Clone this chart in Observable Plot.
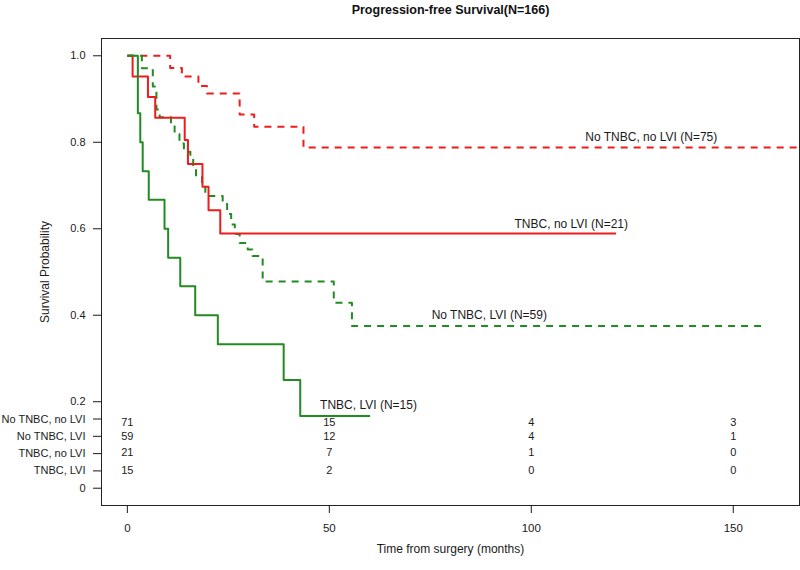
<!DOCTYPE html>
<html><head><meta charset="utf-8">
<script src="https://cdn.jsdelivr.net/npm/d3@7"></script>
<script src="https://cdn.jsdelivr.net/npm/@observablehq/plot@0.6"></script>
<style>body{margin:0;background:#fff;font-family:"Liberation Sans",Arial,sans-serif}</style>
</head><body><div id="chart"></div>
<script>
// ---- data ----
const groups = ["No TNBC, no LVI", "No TNBC, LVI", "TNBC, no LVI", "TNBC, LVI"];
const groupN = [75, 59, 21, 15];

const timeNoTNBCnoLVI = [0, 10.6, 13.5, 17.6, 19.7, 27.8, 31.4, 43.6, 166.4];
const survNoTNBCnoLVI = [1, 0.972, 0.952, 0.93, 0.913, 0.864, 0.836, 0.788, 0.788];

const timeNoTNBCLVI = [0, 3.6, 6.3, 7.2, 8.0, 10.8, 11.7, 12.9, 14.0, 15.6, 16.3, 17.0, 18.5, 19.3, 23.6, 24.7, 25.7, 26.6, 27.8, 29.8, 31.0, 33.5, 51.1, 55.6, 158.2];
const survNoTNBCLVI = [1, 0.971, 0.929, 0.876, 0.858, 0.84, 0.819, 0.797, 0.778, 0.765, 0.743, 0.72, 0.697, 0.676, 0.657, 0.634, 0.61, 0.588, 0.567, 0.552, 0.537, 0.478, 0.429, 0.375, 0.375];

const timeTNBCnoLVI = [0, 1.3, 5.1, 6.9, 14.2, 15.0, 18.6, 20.1, 23.0, 121];
const survTNBCnoLVI = [1, 0.952, 0.905, 0.857, 0.805, 0.75, 0.697, 0.643, 0.589, 0.589];

const timeTNBCLVI = [0, 2.6, 3.2, 3.8, 5.3, 9.2, 10.1, 13.1, 16.8, 22.4, 38.7, 42.8, 60.1];
const survTNBCLVI = [1, 0.867, 0.8, 0.733, 0.667, 0.6, 0.533, 0.467, 0.4, 0.333, 0.25, 0.167, 0.167];

const riskTimes = [0, 50, 100, 150];
const riskNoTNBCnoLVI = [71, 15, 4, 3];
const riskNoTNBCLVI = [59, 12, 4, 1];
const riskTNBCnoLVI = [21, 7, 1, 0];
const riskTNBCLVI = [15, 2, 0, 0];

const xTicks = [0, 50, 100, 150];
const yTicks = [0.2, 0.4, 0.6, 0.8, 1.0];

// ---- layout (data units) ----
const rowTickY = [0.16, 0.12, 0.08, 0.04, 0];
const rowNumY = [0.152, 0.12, 0.082, 0.042];
const curveLabelPos = [[129.7, 0.811], [89.6, 0.401], [109.9, 0.611], [59.7, 0.192]];
const RED = "#ee1c1c", GREEN = "#228B22";
const styles = [
  {stroke: RED, dash: "7,6"},
  {stroke: GREEN, dash: "7,6"},
  {stroke: RED, dash: null},
  {stroke: GREEN, dash: null}
];

const times = [timeNoTNBCnoLVI, timeNoTNBCLVI, timeTNBCnoLVI, timeTNBCLVI];
const survs = [survNoTNBCnoLVI, survNoTNBCLVI, survTNBCnoLVI, survTNBCLVI];
const risks = [riskNoTNBCnoLVI, riskNoTNBCLVI, riskTNBCnoLVI, riskTNBCLVI];

const curves = groups.map((g, i) => times[i].map((t, j) => ({group: g, t, s: survs[i][j]})));
const riskRows = groups.flatMap((g, i) => riskTimes.map((t, j) => ({t, y: rowNumY[i], n: risks[i][j]})));
const curveLabels = groups.map((g, i) => ({x: curveLabelPos[i][0], y: curveLabelPos[i][1], text: `${g} (N=${groupN[i]})`}));

const tickLabel = new Map();
yTicks.forEach(v => tickLabel.set(v, v.toFixed(1)));
groups.forEach((g, i) => tickLabel.set(rowTickY[i], g));
tickLabel.set(0, "0");

const lineMarks = curves.map((c, i) => Plot.line(c, {
  x: "t", y: "s", curve: "step-after",
  stroke: styles[i].stroke, strokeWidth: 2,
  strokeDasharray: styles[i].dash || undefined,
  strokeLinecap: "butt", clip: true
}));

const plot = Plot.plot({
  width: 800, height: 570,
  marginLeft: 101, marginRight: 1, marginTop: 38, marginBottom: 65,
  x: {domain: [-6.4, 166.4]},
  y: {domain: [-0.04, 1.04]},
  style: {fontFamily: '"Liberation Sans", Arial, sans-serif', color: "#1a1a1a", background: "#fff"},
  marks: [
    Plot.frame({stroke: "#222"}),
    Plot.axisX({ticks: xTicks, tickSize: 8, tickPadding: 10, fontSize: 11.5, label: null}),
    Plot.axisY({ticks: [...yTicks, ...rowTickY], tickFormat: d => tickLabel.get(d), tickSize: 8, tickPadding: 8, fontSize: 11, label: null}),
    ...lineMarks,
    Plot.text(curveLabels, {x: "x", y: "y", text: "text", fontSize: 12, fill: "#1a1a1a"}),
    Plot.text(riskRows, {x: "t", y: "y", text: d => String(d.n), fontSize: 11, fill: "#1a1a1a"}),
    Plot.text(["Survival Probability"], {frameAnchor: "left", dx: -56, rotate: -90, textAnchor: "middle", lineAnchor: "middle", fontSize: 12, fill: "#1a1a1a"}),
    Plot.text(["Time from surgery (months)"], {frameAnchor: "bottom", dy: 44, lineAnchor: "middle", fontSize: 12, fill: "#1a1a1a"}),
    Plot.text(["Progression-free Survival(N=166)"], {frameAnchor: "top", dy: -29, lineAnchor: "middle", fontSize: 12.5, fontWeight: "bold", fill: "#111"})
  ]
});
document.getElementById("chart").appendChild(plot);
</script>
</body></html>
